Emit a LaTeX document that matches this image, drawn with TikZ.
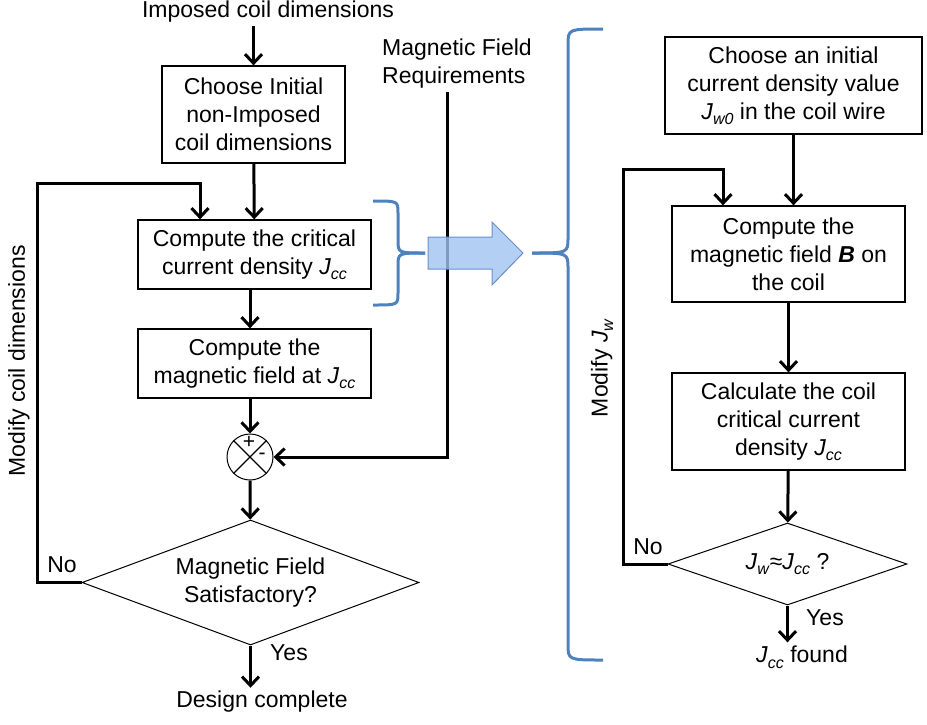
\documentclass[tikz,border=0pt]{standalone}
\usepackage{fontspec}
\setmainfont{Liberation Sans}
\usepackage{tikz}
\usetikzlibrary{shapes.geometric,arrows.meta}
\newcommand{\Jsub}[1]{\textit{J}\raisebox{-5.5pt}{\fontsize{16}{16}\selectfont\textit{#1}}}
\definecolor{bracecol}{HTML}{4F81BD}
\definecolor{arrowfill}{HTML}{A0C3F0}
\definecolor{arrowline}{HTML}{6A8FCB}

\begin{document}
\begin{tikzpicture}[x=1pt,y=-1pt,
	every node/.style={font=\fontsize{23}{28}\selectfont},
	box/.style={draw,line width=1.3pt,align=center,inner sep=0pt,minimum width=233pt,minimum height=69pt},
	decision/.style={draw,diamond,line width=1pt,align=center,inner sep=0pt},
	arr/.style={line width=3pt,-{Straight Barb[length=9pt,width=17pt]}},
	brace/.style={draw=bracecol,line width=3pt},
	sign/.style={font=\fontsize{21}{21}\selectfont,inner sep=0pt}]
	\useasboundingbox (0,0) rectangle (927,724);
	% left loop
							\node (imposed) at (268,12) {Imposed coil dimensions};
							\node[box,minimum width=183pt,minimum height=97pt] (choose) at (253.5,114.5) {Choose Initial\\non-Imposed\\coil dimensions};
							\node[box] (critical) at (254.5,254.5) {Compute the critical\\current density \Jsub{cc}};
							\node[box] (field) at (254.5,363.5) {Compute the\\magnetic field at \Jsub{cc}};
							\node[draw,circle,line width=1pt,minimum size=46pt,inner sep=0pt] (sum) at (250,457) {};
							\draw[line width=1.3pt] (sum.north west) -- (sum.south east);
							\draw[line width=1.3pt] (sum.north east) -- (sum.south west);
							\node[sign] (plus) at (249,442) {+};
							\node[sign] (minus) at (262,456) {-};
							\node[decision,shape aspect=2.7,minimum width=337pt,minimum height=125pt] (satisf) at (250.5,582.5) {Magnetic Field\\Satisfactory?};
							\node (done) at (262,702) {Design complete};
							\node (yes1) at (289,653) {Yes};
							\node (no1) at (62,565) {No};
							\node[rotate=90] (modcoil) at (19,361) {Modify coil dimensions};
							\node[align=left] (req) at (457,64) {Magnetic Field\\Requirements};
							\coordinate (coilcorner) at (37,183);
					\draw[arr] (choose.north |- imposed.south) -- (choose.north);
					\draw[arr] (choose) -- (critical);
					\draw[arr] (critical.south -| sum) -- (field.north -| sum);
					\draw[arr] (field.south -| sum) -- (sum);
					\draw[arr] (sum) -- (satisf);
					\draw[arr] (satisf) -- (satisf.south |- done.north);
					\draw[arr] (satisf.west) -| (coilcorner) -| ([xshift=-54.5pt]critical.north);
					\draw[arr] ([xshift=-10pt]req.south) |- (sum);
	% braces and block arrow
					\draw[brace] (373,201) .. controls (398,201) .. (398,213) -- (398,240) .. controls (398,253) .. (425,253);
					\draw[brace] (373,305) .. controls (398,305) .. (398,293) -- (398,266) .. controls (398,253) .. (425,253);
					\draw[fill=arrowfill,draw=arrowline,fill opacity=0.8,line width=1pt] (428,237) -- (492,237) -- (492,222) -- (523,253) -- (492,285) -- (492,269) -- (428,269) -- cycle;
					\draw[brace] (603,29) .. controls (568,29) .. (568,45) -- (568,238) .. controls (568,253) .. (532,253);
					\draw[brace] (603,660) .. controls (568,660) .. (568,644) -- (568,268) .. controls (568,253) .. (532,253);
	% right loop
							\node[box,minimum width=257pt,minimum height=97pt] (init) at (793.5,85.5) {Choose an initial\\current density value\\\Jsub{w0} in the coil wire};
							\node[box,minimum height=96pt] (bfield) at (788.5,254) {Compute the\\magnetic field \textbf{\textit{B}} on\\the coil};
							\node[box,minimum height=97pt] (calc) at (788.5,421.5) {Calculate the coil\\critical current\\density \Jsub{cc}};
							\node[decision,shape aspect=2.9,minimum width=239pt,minimum height=82pt] (check) at (787.5,564) {\Jsub{w}≈\Jsub{cc} ?};
							\node (found) at (802,657) {\Jsub{cc} found};
							\node (yes2) at (825,618) {Yes};
							\node (no2) at (648,547) {No};
							\node[rotate=90] (modjw) at (602,368) {Modify \Jsub{w}};
							\coordinate (jwcorner) at (623,169);
					\draw[arr] (init) -- (init |- bfield.north);
					\draw[arr] (bfield) -- (calc);
					\draw[arr] (calc) -- (check);
					\draw[arr] (check) -- (check.south |- found.north);
					\draw[arr] (check.west) -| (jwcorner) -| ([xshift=-65.5pt]bfield.north);
						\end{tikzpicture}
\end{document}
